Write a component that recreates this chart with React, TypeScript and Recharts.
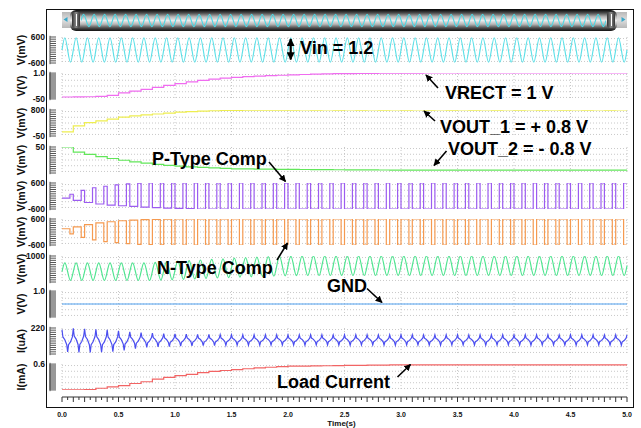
import React from "react";
import { LineChart, Line, XAxis, YAxis, CartesianGrid } from "recharts";

const W = 641;
const H = 428;
const FONT = "Arial, 'Liberation Sans', Helvetica, sans-serif";

const PERIOD = 0.1; // 50 carrier periods in the 5 s window
const SLOW_STEP = 0.1; // sample step of the slow (envelope) curves
const T_END = 5;

// x axis
const xLabelTimes = [0, 0.5, 1, 1.5, 2, 2.5, 3, 3.5, 4, 4.5, 5];
const xTickLabels = ["0.0", "0.5", "1.0", "1.5", "2.0", "2.5", "3.0", "3.5", "4.0", "4.5", "5.0"];

// Vin (mV), amplitude per period
const vinAmp = [
  565, 565, 565, 565, 565, 565, 565, 565, 565, 565,
  565, 565, 565, 565, 565, 565, 565, 565, 565, 565,
  565, 565, 565, 565, 565, 565, 565, 565, 565, 565,
  565, 565, 565, 565, 565, 565, 565, 565, 565, 565,
  565, 565, 565, 565, 565, 565, 565, 565, 565, 565,
];

// VRECT (V), one sample every 0.1 s
const vrect = [
  0.03, 0.035, 0.04, 0.06, 0.1, 0.2, 0.27, 0.34, 0.42, 0.5,
  0.57, 0.64, 0.7, 0.75, 0.79, 0.82, 0.85, 0.87, 0.89, 0.91,
  0.925, 0.94, 0.955, 0.965, 0.972, 0.978, 0.983, 0.987, 0.99, 0.993,
  0.995, 0.997, 1.0, 1.0, 1.0, 1.0, 1.0, 1.0, 1.0, 1.0,
  1.0, 1.0, 1.0, 1.0, 1.0, 1.0, 1.0, 1.0, 1.0, 1.0, 1.0,
];

// VOUT_1 (mV)
const vout1 = [
  85, 280, 385, 445, 500, 565, 605, 640, 670, 700,
  728, 750, 765, 775, 783, 790, 792, 794, 796, 797,
  798, 800, 797, 800, 796, 800, 798, 800, 796, 800,
  798, 800, 797, 800, 796, 800, 798, 800, 797, 800,
  796, 800, 798, 800, 797, 800, 796, 800, 798, 800, 799,
];

// VOUT_2 (mV)
const vout2 = [
  50, -140, -220, -300, -370, -434, -490, -540, -588, -620,
  -649, -675, -695, -712, -730, -746, -752, -758, -762, -766,
  -770, -773, -776, -779, -782, -785, -787, -789, -791, -792,
  -793, -796, -792, -797, -793, -796, -792, -797, -794, -796,
  -792, -797, -793, -796, -792, -797, -794, -796, -792, -797, -795,
];

// P-type comparator output (mV), level per period
const pHigh = [
  80, 260, 380, 450, 510, 560, 590, 600, 600, 600,
  600, 600, 600, 600, 600, 600, 600, 600, 600, 600,
  600, 600, 600, 600, 600, 600, 600, 600, 600, 600,
  600, 600, 600, 600, 600, 600, 600, 600, 600, 600,
  600, 600, 600, 600, 600, 600, 600, 600, 600, 600,
];
const pLow = [
  -100, -200, -300, -370, -420, -450, -480, -510, -535, -555,
  -570, -585, -600, -600, -600, -600, -600, -600, -600, -600,
  -600, -600, -600, -600, -600, -600, -600, -600, -600, -600,
  -600, -600, -600, -600, -600, -600, -600, -600, -600, -600,
  -600, -600, -600, -600, -600, -600, -600, -600, -600, -600,
];

// N-type comparator output (mV)
const nHigh = [
  150, 232, 344, 424, 472, 520, 552, 570, 585, 595,
  600, 600, 600, 600, 600, 600, 600, 600, 600, 600,
  600, 600, 600, 600, 600, 600, 600, 600, 600, 600,
  600, 600, 600, 600, 600, 600, 600, 600, 600, 600,
  600, 600, 600, 600, 600, 600, 600, 600, 600, 600,
];
const nLow = [
  -88, -248, -360, -440, -488, -536, -568, -585, -595, -600,
  -600, -600, -600, -600, -600, -600, -600, -600, -600, -600,
  -600, -600, -600, -600, -600, -600, -600, -600, -600, -600,
  -600, -600, -600, -600, -600, -600, -600, -600, -600, -600,
  -600, -600, -600, -600, -600, -600, -600, -600, -600, -600,
];

// N-type comparator input (mV), peak / trough per period
const nInPeak = [
  660, 660, 660, 660, 660, 660, 660, 660, 680, 710,
  740, 770, 800, 830, 860, 890, 920, 945, 965, 980,
  990, 1000, 1000, 1000, 1000, 1000, 1000, 1000, 1000, 1000,
  1000, 1000, 1000, 1000, 1000, 1000, 1000, 1000, 1000, 1000,
  1000, 1000, 1000, 1000, 1000, 1000, 1000, 1000, 1000, 1000,
];
const nInTrough = [
  -225, -225, -225, -225, -225, -225, -225, -225, -210, -190,
  -170, -150, -125, -100, -80, -60, -40, -20, -5, 5,
  15, 25, 25, 25, 25, 25, 25, 25, 25, 25,
  25, 25, 25, 25, 25, 25, 25, 25, 25, 25,
  25, 25, 25, 25, 25, 25, 25, 25, 25, 25,
];

// GND (V)
const gndTimes = [0, 5];
const gndLevel = [0, 0];

// supply current (uA), spike tops / bottoms per period
const iPeak = [
  205, 218, 212, 208, 204, 196, 188, 180, 176, 172,
  170, 168, 166, 165, 164, 163, 162, 162, 162, 162,
  161, 162, 163, 162, 161, 162, 163, 162, 161, 162,
  163, 162, 161, 162, 163, 162, 161, 162, 163, 162,
  161, 162, 163, 162, 161, 162, 163, 162, 161, 162,
];
const iTrough = [
  18, 14, 14, 16, 20, 30, 45, 55, 60, 63,
  66, 68, 70, 72, 73, 74, 75, 75, 76, 76,
  76, 75, 76, 77, 76, 75, 76, 77, 76, 75,
  76, 77, 76, 75, 76, 77, 76, 75, 76, 77,
  76, 75, 76, 77, 76, 75, 76, 77, 76, 75,
];

// load current (mA)
const loadCurrent = [
  0.005, 0.005, 0.01, 0.04, 0.07, 0.1, 0.15, 0.19, 0.25, 0.29,
  0.33, 0.36, 0.4, 0.43, 0.45, 0.47, 0.49, 0.51, 0.525, 0.54,
  0.55, 0.553, 0.557, 0.56, 0.563, 0.566, 0.569, 0.572, 0.575, 0.578,
  0.58, 0.58, 0.58, 0.58, 0.58, 0.58, 0.58, 0.58, 0.58, 0.58,
  0.58, 0.58, 0.58, 0.58, 0.58, 0.58, 0.58, 0.58, 0.58, 0.58, 0.58,
];

type Pt = { t: number; v: number };

function slowTable(values: number[]): Pt[] {
  return values.map((v, i) => ({ t: +(i * SLOW_STEP).toFixed(2), v }));
}

function sineTable(high: number[], low: number[]): Pt[] {
  const pts: Pt[] = [];
  high.forEach((h, i) => {
    const t0 = i * PERIOD;
    const mid = (h + low[i]) / 2;
    pts.push(
      { t: t0, v: mid },
      { t: t0 + PERIOD * 0.25, v: h },
      { t: t0 + PERIOD * 0.5, v: mid },
      { t: t0 + PERIOD * 0.75, v: low[i] }
    );
  });
  const k = high.length - 1;
  pts.push({ t: T_END, v: (high[k] + low[k]) / 2 });
  return pts;
}

// square wave: "first" level for the start of a period, "second" from split on
function pulseTable(first: number[], second: number[], split: number): Pt[] {
  const pts: Pt[] = [];
  first.forEach((a, i) => {
    const t0 = i * PERIOD;
    pts.push({ t: t0, v: a }, { t: t0 + PERIOD * split, v: second[i] });
  });
  pts.push({ t: T_END, v: second[second.length - 1] });
  return pts;
}

// narrow spikes up and down around a flatter body
function spikeTable(high: number[], low: number[]): Pt[] {
  const pts: Pt[] = [];
  high.forEach((h, i) => {
    const t0 = i * PERIOD;
    const l = low[i];
    const mid = (h + l) / 2;
    const up = mid + (h - mid) * 0.35;
    const dn = mid - (mid - l) * 0.35;
    pts.push(
      { t: t0, v: h },
      { t: t0 + PERIOD * 0.08, v: up },
      { t: t0 + PERIOD * 0.25, v: mid + (h - mid) * 0.1 },
      { t: t0 + PERIOD * 0.42, v: dn },
      { t: t0 + PERIOD * 0.5, v: l },
      { t: t0 + PERIOD * 0.58, v: dn },
      { t: t0 + PERIOD * 0.75, v: mid - (mid - l) * 0.1 },
      { t: t0 + PERIOD * 0.92, v: up }
    );
  });
  pts.push({ t: T_END, v: high[high.length - 1] });
  return pts;
}

const vinData = sineTable(vinAmp, vinAmp.map((a) => -a));
const gndData = gndTimes.map((t, i) => ({ t, v: gndLevel[i] }));
const loadData = slowTable(loadCurrent);

type PanelCfg = {
  title: string;
  top: number;
  domain: [number, number];
  topLabel: string;
  bottomLabel?: string;
  color: string;
  data: Pt[];
  curve: "natural" | "stepAfter" | "linear";
  dense?: boolean;
};

const panels: PanelCfg[] = [
  { title: "V(mV)", top: 36.5, domain: [-600, 600], topLabel: "600", bottomLabel: "-600", color: "#5ee0e8", data: vinData, curve: "natural" },
  { title: "V(V)", top: 73, domain: [-0.05, 1.0], topLabel: "1.0", bottomLabel: "-50", color: "#f06cf0", data: slowTable(vrect), curve: "stepAfter", dense: true },
  { title: "V(mV)", top: 110, domain: [-50, 800], topLabel: "800", bottomLabel: "-50", color: "#eeee50", data: slowTable(vout1), curve: "stepAfter" },
  { title: "V(mV)", top: 146.5, domain: [-900, 50], topLabel: "50", color: "#62e65a", data: slowTable(vout2), curve: "stepAfter" },
  { title: "V(mV)", top: 183, domain: [-600, 600], topLabel: "600", bottomLabel: "-600", color: "#9c5cf0", data: pulseTable(pLow, pHigh, 0.7), curve: "stepAfter" },
  { title: "V(mV)", top: 219, domain: [-600, 600], topLabel: "600", bottomLabel: "-600", color: "#f59a50", data: pulseTable(nHigh, nLow, 0.7), curve: "stepAfter" },
  { title: "V(mV)", top: 255.5, domain: [-300, 1000], topLabel: "1000", color: "#4fe590", data: sineTable(nInPeak, nInTrough), curve: "natural" },
  { title: "V(V)", top: 291, domain: [-1, 1], topLabel: "1.0", color: "#4e9ff0", data: gndData, curve: "linear", dense: true },
  { title: "I(uA)", top: 328, domain: [0, 220], topLabel: "220", color: "#4b4ef0", data: spikeTable(iPeak, iTrough), curve: "linear" },
  { title: "I(mA)", top: 363.5, domain: [0, 0.6], topLabel: "0.6", color: "#f26464", data: loadData, curve: "stepAfter", dense: true },
];

const PLOT_H = 26;
const PAD = 9;
const RIGHT_GAP = 14;
const AXIS_W = 62;

function Panel({ cfg }: { cfg: PanelCfg }) {
  const [lo, hi] = cfg.domain;
  const n = cfg.dense ? 26 : 12;
  const ruler = Array.from({ length: n + 1 }, (_, k) => lo + ((hi - lo) * k) / n);
  const grid = [0.06, 0.28, 0.5, 0.72, 0.94].map((f) => lo + (hi - lo) * f);
  const eps = (hi - lo) * 1e-6;

  const tick = (p: any) => {
    const v = p.payload.value;
    const label = Math.abs(v - hi) < eps ? cfg.topLabel : Math.abs(v - lo) < eps ? cfg.bottomLabel : undefined;
    return (
      <g>
        <line x1={p.x - 12} x2={p.x - 6} y1={p.y} y2={p.y} stroke={cfg.dense ? "#777" : "#555"} strokeWidth={1} />
        <line x1={p.x - 12} x2={p.x - 12} y1={p.y - 1.2} y2={p.y + 1.2} stroke="#555" strokeWidth={1} />
        {label && (
          <text x={p.x - 17} y={p.y} textAnchor="end" dominantBaseline="central" fontSize={8.5} fontWeight="bold" fill="#111" fontFamily={FONT}>
            {label}
          </text>
        )}
      </g>
    );
  };

  const title = (p: any) => {
    const vb = p.viewBox || { x: 0, y: PAD, height: PLOT_H };
    const cx = vb.x + 21;
    const cy = vb.y + vb.height / 2;
    return (
      <text x={cx} y={cy} transform={`rotate(-90 ${cx} ${cy})`} textAnchor="middle" dominantBaseline="central" fontSize={10.5} fontWeight="bold" fill="#111" fontFamily={FONT}>
        {cfg.title}
      </text>
    );
  };

  return (
    <div style={{ position: "absolute", left: 0, top: cfg.top - PAD }}>
      <LineChart width={W} height={PLOT_H + 2 * PAD} data={cfg.data} margin={{ top: PAD, right: RIGHT_GAP, bottom: PAD, left: 0 }}>
        <CartesianGrid stroke="#c8c8c8" strokeDasharray="1 2" verticalValues={xLabelTimes} horizontalValues={grid} />
        <XAxis type="number" dataKey="t" domain={[0, T_END]} hide />
        <YAxis
          type="number"
          domain={[lo, hi]}
          allowDataOverflow
          ticks={ruler}
          interval={0}
          width={AXIS_W}
          tickSize={0}
          tickMargin={0}
          axisLine={false}
          tickLine={false}
          tick={tick}
          label={title}
        />
        <Line type={cfg.curve} dataKey="v" stroke={cfg.color} strokeWidth={1.2} dot={false} isAnimationActive={false} />
      </LineChart>
    </div>
  );
}

const xRulerTicks = Array.from({ length: 101 }, (_, k) => +(k * 0.05).toFixed(2));

function TimeAxis() {
  const tick = (p: any) => {
    const hund = Math.round(p.payload.value * 100);
    const len = hund % 10 === 0 ? 5 : 3;
    const idx = xLabelTimes.findIndex((t) => Math.round(t * 100) === hund);
    return (
      <g>
        <line x1={p.x} x2={p.x} y1={p.y} y2={p.y + len} stroke="#333" strokeWidth={1} />
        {idx >= 0 && (
          <text x={p.x} y={p.y + 19.5} textAnchor="middle" fontSize={7} fontWeight="bold" fill="#111" fontFamily={FONT}>
            {xTickLabels[idx]}
          </text>
        )}
      </g>
    );
  };
  const label = (p: any) => {
    const vb = p.viewBox || { x: AXIS_W, y: 397, width: 565 };
    return (
      <text x={vb.x + vb.width / 2 - 3} y={vb.y + 29} textAnchor="middle" fontSize={8} fontWeight="bold" fill="#111" fontFamily={FONT}>
        Time(s)
      </text>
    );
  };
  return (
    <div style={{ position: "absolute", left: 0, top: 396 }}>
      <LineChart width={W} height={39} data={loadData} margin={{ top: 0, right: RIGHT_GAP, bottom: 0, left: AXIS_W }}>
        <XAxis
          type="number"
          dataKey="t"
          domain={[0, T_END]}
          ticks={xRulerTicks}
          interval={0}
          height={38}
          tickSize={0}
          tickMargin={0}
          axisLine={{ stroke: "#333" }}
          tickLine={false}
          tick={tick}
          label={label}
        />
        <YAxis hide domain={[0, 0.6]} />
        <Line dataKey="v" stroke="none" dot={false} isAnimationActive={false} />
      </LineChart>
    </div>
  );
}

function ScrollBar() {
  return (
    <>
      <div style={{ position: "absolute", left: 62, top: 12, width: 565, height: 16, background: "linear-gradient(#b8b8b8, #dedede, #b8b8b8)" }} />
      <svg style={{ position: "absolute", left: 0, top: 0 }} width={W} height={40}>
        <path d="M63.5,19.5 L67.5,17 L67.5,22 Z" fill="#3aa7c8" />
        <path d="M625.5,19.5 L621.5,17 L621.5,22 Z" fill="#3aa7c8" />
      </svg>
      <div
        style={{
          position: "absolute",
          left: 70,
          top: 9.5,
          width: 547,
          height: 21,
          borderRadius: 6,
          background: "linear-gradient(to bottom, #111 0%, #4a4a4a 14%, #b4b4b4 32%, #ececec 50%, #b4b4b4 68%, #4a4a4a 86%, #111 100%)",
        }}
      />
      <div style={{ position: "absolute", left: 72, top: 12, width: 8, height: 16, borderRadius: 3, background: "linear-gradient(to right, #333, #8a8a8a, #333)" }} />
      <div style={{ position: "absolute", left: 75.5, top: 14, width: 1.5, height: 12, background: "#fff" }} />
      <div style={{ position: "absolute", left: 607, top: 12, width: 8, height: 16, borderRadius: 3, background: "linear-gradient(to right, #333, #8a8a8a, #333)" }} />
      <div style={{ position: "absolute", left: 610.5, top: 14, width: 1.5, height: 12, background: "#fff" }} />
      <div style={{ position: "absolute", left: 81, top: 13, width: 525, height: 15 }}>
        <LineChart width={525} height={15} data={vinData} margin={{ top: 1, right: 0, bottom: 1, left: 0 }}>
          <XAxis type="number" dataKey="t" domain={[0, T_END]} hide />
          <YAxis hide domain={[-600, 600]} />
          <Line type="natural" dataKey="v" stroke="#4fd8e4" strokeWidth={1.1} dot={false} isAnimationActive={false} />
        </LineChart>
      </div>
    </>
  );
}

const notes = [
  { text: "Vin = 1.2", x: 300, y: 53.5 },
  { text: "VRECT = 1 V", x: 445, y: 99 },
  { text: "VOUT_1 = + 0.8 V", x: 440, y: 133 },
  { text: "VOUT_2 = - 0.8 V", x: 448, y: 155 },
  { text: "P-Type Comp", x: 152, y: 165 },
  { text: "N-Type Comp", x: 157, y: 273.5 },
  { text: "GND", x: 327, y: 291.5 },
  { text: "Load Current", x: 277, y: 388 },
];

const pointers = [
  { x1: 438, y1: 88, x2: 426, y2: 75 },
  { x1: 435, y1: 121, x2: 424, y2: 111 },
  { x1: 446.5, y1: 151, x2: 434, y2: 165.5 },
  { x1: 269, y1: 162, x2: 285.5, y2: 181.5 },
  { x1: 277, y1: 260, x2: 287.5, y2: 243 },
  { x1: 367, y1: 288.5, x2: 382, y2: 302.5 },
  { x1: 397.5, y1: 377, x2: 410.5, y2: 364.5 },
];

function Annotations() {
  return (
    <svg style={{ position: "absolute", left: 0, top: 0, pointerEvents: "none" }} width={W} height={H}>
      <defs>
        <marker id="head" viewBox="0 0 10 10" refX="9" refY="5" markerWidth="7" markerHeight="7" markerUnits="userSpaceOnUse" orient="auto-start-reverse">
          <path d="M0,0 L10,5 L0,10 z" fill="#000" />
        </marker>
        <marker id="headBig" viewBox="0 0 10 10" refX="9" refY="5" markerWidth="8" markerHeight="8" markerUnits="userSpaceOnUse" orient="auto-start-reverse">
          <path d="M0,0 L10,5 L0,10 z" fill="#000" />
        </marker>
      </defs>
      <line x1={290.7} y1={39} x2={290.7} y2={59.5} stroke="#000" strokeWidth={2.2} markerStart="url(#headBig)" markerEnd="url(#headBig)" />
      {pointers.map((a, i) => (
        <line key={i} x1={a.x1} y1={a.y1} x2={a.x2} y2={a.y2} stroke="#000" strokeWidth={1.6} markerEnd="url(#head)" />
      ))}
      {notes.map((n) => (
        <text key={n.text} x={n.x} y={n.y} fontSize={18} fontWeight="bold" fill="#000" fontFamily={FONT}>
          {n.text}
        </text>
      ))}
    </svg>
  );
}

export default function App() {
  return (
    <div style={{ position: "absolute", left: 0, top: 0, width: W, height: H, background: "#fff", overflow: "hidden", fontFamily: FONT }}>
      <div style={{ position: "absolute", left: 46, top: 8.5, width: 587.5, height: 399, border: "1.5px solid #111", boxSizing: "border-box" }} />
      <ScrollBar />
      {panels.map((p, i) => (
        <Panel key={i} cfg={p} />
      ))}
      <TimeAxis />
      <Annotations />
    </div>
  );
}
